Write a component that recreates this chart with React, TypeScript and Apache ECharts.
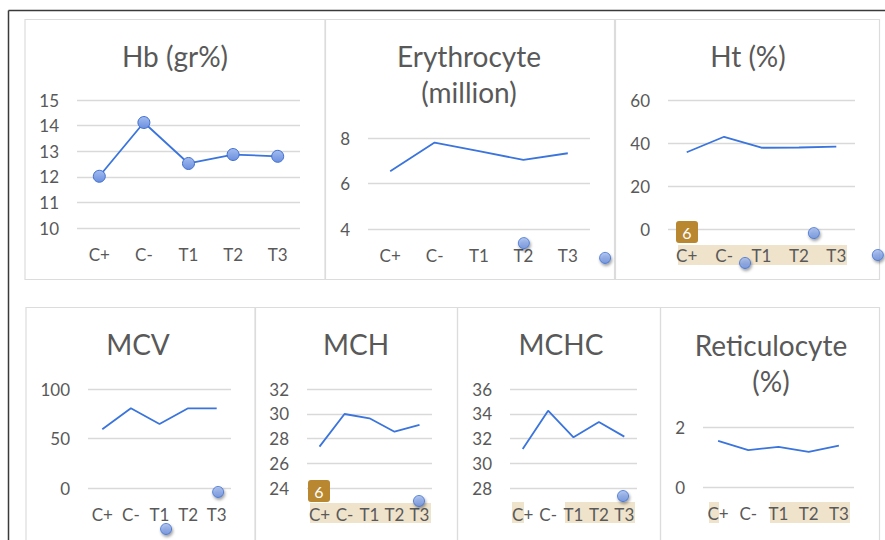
import React, { useEffect, useRef } from "react";
import * as echarts from "echarts";

const categories = ["C+", "C-", "T1", "T2", "T3"];
const hb = [12.02, 14.12, 12.52, 12.87, 12.8];
const erythrocyte = [6.54, 7.8, 7.42, 7.04, 7.33];
const ht = [35.7, 42.9, 37.8, 37.9, 38.3];
const mcv = [59.3, 80.5, 64.6, 80.5, 80.5];
const mch = [27.34, 29.98, 29.63, 28.55, 29.1];
const mchc = [31.15, 34.25, 32.1, 33.33, 32.15];
const reticulocyte = [1.54, 1.23, 1.34, 1.17, 1.38];

// stray marker artefacts [categoryIndex, value]
const strayErythrocyte = [[3.01, 3.38], [4.84, 2.73]];
const strayHt = [[1.56, -15.8], [3.4, -1.9], [5.11, -12.1]];
const strayMcv = [[2.23, -41.4], [4.05, -4]];
const strayMch = [[3.98, 22.95]];
const strayMchc = [[3.95, 27.35]];

const FONT = "Lato";
const TEXT = "#595959";
const GRID = "#d9d9d9";
const LINE = "#3a74dc";

type Panel = {
  title: string;
  titleX: number;
  titleY: number;
  values: number[];
  min: number;
  max: number;
  interval: number;
  grid: { left: number; top: number; width: number; height: number };
  markers: boolean;
  stray: number[][];
};

const panels: Panel[] = [
  { title: "Hb (gr%)", titleX: 175, titleY: 56, values: hb, min: 10, max: 15, interval: 1,
    grid: { left: 77, top: 100, width: 223, height: 128 }, markers: true, stray: [] },
  { title: "Erythrocyte\n(million)", titleX: 469, titleY: 74, values: erythrocyte, min: 4, max: 8, interval: 2,
    grid: { left: 368, top: 138, width: 222, height: 91 }, markers: false, stray: strayErythrocyte },
  { title: "Ht (%)", titleX: 748, titleY: 56, values: ht, min: 0, max: 60, interval: 20,
    grid: { left: 668, top: 100, width: 187, height: 129 }, markers: false, stray: strayHt },
  { title: "MCV", titleX: 138, titleY: 344, values: mcv, min: 0, max: 100, interval: 50,
    grid: { left: 88, top: 389, width: 143, height: 99 }, markers: false, stray: strayMcv },
  { title: "MCH", titleX: 356, titleY: 344, values: mch, min: 24, max: 32, interval: 2,
    grid: { left: 307, top: 389, width: 125, height: 99 }, markers: false, stray: strayMch },
  { title: "MCHC", titleX: 561, titleY: 344, values: mchc, min: 28, max: 36, interval: 2,
    grid: { left: 510, top: 389, width: 127, height: 99 }, markers: false, stray: strayMchc },
  { title: "Reticulocyte\n(%)", titleX: 771, titleY: 363, values: reticulocyte, min: 0, max: 2, interval: 2,
    grid: { left: 703, top: 427, width: 151, height: 60 }, markers: false, stray: [] },
];

const markerStyle = {
  color: new echarts.graphic.LinearGradient(0, 0, 0, 1, [
    { offset: 0, color: "#a3bcef" },
    { offset: 1, color: "#6a8fe0" },
  ]),
  borderColor: "#3f6fcf",
  borderWidth: 1,
};

function buildOption() {
  const grid: any[] = [];
  const xAxis: any[] = [];
  const yAxis: any[] = [];
  const series: any[] = [];
  const graphic: any[] = [];

  // outer frame
  graphic.push({ type: "line", shape: { x1: 8.5, y1: 10.5, x2: 8.5, y2: 545 }, style: { stroke: "#3a3a3a", lineWidth: 1.5 }, z: 1 });
  graphic.push({ type: "line", shape: { x1: 8.5, y1: 10.5, x2: 890, y2: 10.5 }, style: { stroke: "#3a3a3a", lineWidth: 1.5 }, z: 1 });

  // panel frames
  const frames = [
    [25, 19.5, 300, 260], [325.5, 19.5, 289, 260], [615.5, 19.5, 264, 260],
    [26, 307.5, 229, 240], [255.5, 307.5, 202, 240], [457.5, 307.5, 203, 240], [660.5, 307.5, 219, 240],
  ];
  frames.forEach(([x, y, w, h]) =>
    graphic.push({ type: "rect", shape: { x, y, width: w, height: h }, style: { fill: "none", stroke: "#dcdcdc", lineWidth: 1.2 }, z: 1 })
  );

  // text highlight artefacts
  const highlights = [
    [678, 245, 169, 20], [310, 503, 121, 20], [512, 502, 12, 21], [565, 502, 70, 21], [709, 502, 10, 21], [770, 502, 80, 21],
  ];
  highlights.forEach(([x, y, w, h]) =>
    graphic.push({ type: "rect", shape: { x, y, width: w, height: h }, style: { fill: "#efe3cb" }, z: -5 })
  );
  // "6" badges
  [[676, 221], [308, 480]].forEach(([x, y]) => {
    graphic.push({ type: "rect", shape: { x, y, width: 22, height: 22, r: 3 }, style: { fill: "#b8872f" }, z: 5 });
    graphic.push({ type: "text", x: x + 11, y: y + 11, style: { text: "6", fill: "#ffffff", font: `16px ${FONT}`, textAlign: "center", textVerticalAlign: "middle" }, z: 6 });
  });

  panels.forEach((p, i) => {
    grid.push({ ...p.grid, containLabel: false });
    graphic.push({
      type: "text", x: p.titleX, y: p.titleY,
      style: { text: p.title, fill: TEXT, font: `28px ${FONT}`, textAlign: "center", textVerticalAlign: "middle", lineHeight: 36 },
      z: 3,
    });
    xAxis.push({
      type: "category", data: categories, gridIndex: i, boundaryGap: true,
      axisLine: { show: false }, axisTick: { show: false },
      axisLabel: { color: TEXT, fontSize: 17, fontFamily: FONT, margin: 18, interval: 0 },
    });
    xAxis.push({ type: "value", gridIndex: i, min: -0.5, max: 4.5, show: false });
    yAxis.push({
      type: "value", gridIndex: i, min: p.min, max: p.max, interval: p.interval,
      axisLine: { show: false }, axisTick: { show: false },
      axisLabel: { color: TEXT, fontSize: 17, fontFamily: FONT, margin: 18 },
      splitLine: { lineStyle: { color: GRID, width: 1.3 } },
    });
    series.push({
      type: "line", xAxisIndex: i * 2, yAxisIndex: i, data: p.values,
      symbol: "circle", symbolSize: 12, showSymbol: p.markers,
      lineStyle: { color: LINE, width: 1.8 },
      itemStyle: markerStyle,
      z: 3,
    });
    if (p.stray.length) {
      series.push({
        type: "scatter", xAxisIndex: i * 2 + 1, yAxisIndex: i, data: p.stray, clip: false,
        symbol: "circle", symbolSize: 11,
        itemStyle: { ...markerStyle, shadowBlur: 3, shadowColor: "rgba(0,0,0,0.45)", shadowOffsetX: 1, shadowOffsetY: 2 },
        z: 4,
      });
    }
  });

  return { animation: false, backgroundColor: "#ffffff", grid, xAxis, yAxis, series, graphic };
}

export default function App() {
  const ref = useRef<HTMLDivElement>(null);
  useEffect(() => {
    if (!ref.current) return;
    const chart = echarts.init(ref.current, undefined, { renderer: "svg" });
    chart.setOption(buildOption() as any);
    return () => chart.dispose();
  }, []);
  return <div ref={ref} style={{ position: "absolute", left: 0, top: 0, width: 885, height: 540 }} />;
}
